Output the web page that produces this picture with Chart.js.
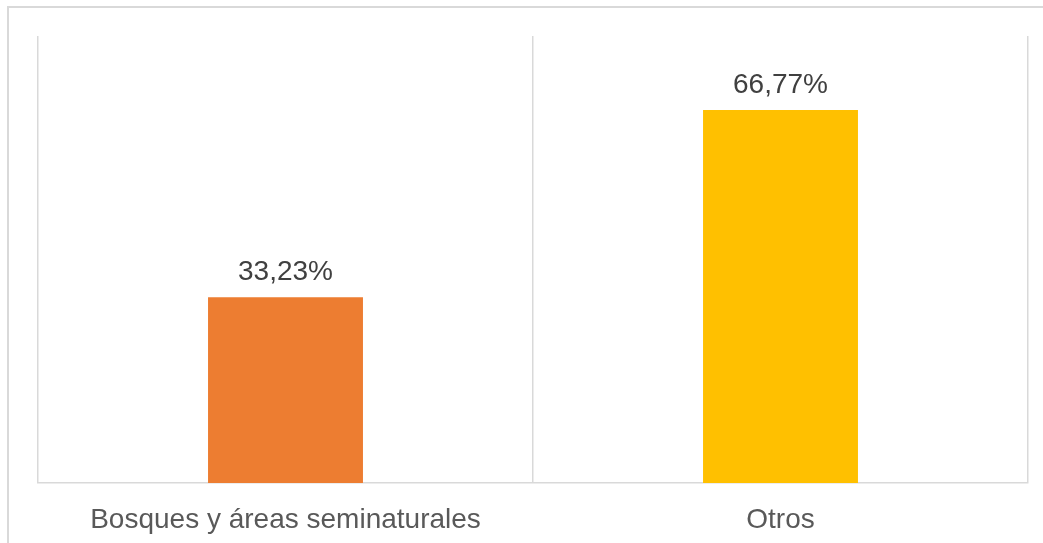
<!DOCTYPE html>
<html>
<head>
<meta charset="utf-8">
<script src="https://cdn.jsdelivr.net/npm/chart.js@4"></script>
<style>
html,body{margin:0;padding:0;background:#fff;}
#wrap{position:relative;width:1043px;height:543px;}
</style>
</head>
<body>
<div id="wrap"><canvas id="c" width="1043" height="543"></canvas></div>
<script>
const categories = ["Bosques y áreas seminaturales", "Otros"];
const values = [33.23, 66.77];
const barColors = ["#ED7D31", "#FFC000"];
const valueLabels = ["33,23%", "66,77%"];

const frame = {
  id: 'frame',
  beforeDraw(chart) {
    const ctx = chart.ctx;
    ctx.save();
    ctx.fillStyle = '#ffffff';
    ctx.fillRect(0, 0, chart.width, chart.height);
    ctx.strokeStyle = '#d9d9d9';
    ctx.lineWidth = 2;
    ctx.beginPath();
    ctx.moveTo(8, chart.height);
    ctx.lineTo(8, 7);
    ctx.lineTo(chart.width, 7);
    ctx.stroke();
    ctx.restore();
  }
};

const dataLabels = {
  id: 'dataLabels',
  afterDatasetsDraw(chart) {
    const ctx = chart.ctx;
    const meta = chart.getDatasetMeta(0);
    ctx.save();
    ctx.font = '28px "Liberation Sans", Arial, sans-serif';
    ctx.fillStyle = '#404040';
    ctx.textAlign = 'center';
    ctx.textBaseline = 'alphabetic';
    meta.data.forEach((bar, i) => {
      ctx.fillText(valueLabels[i], bar.x, bar.y - 17);
    });
    ctx.restore();
  }
};

new Chart(document.getElementById('c'), {
  type: 'bar',
  data: {
    labels: categories,
    datasets: [{
      data: values,
      backgroundColor: barColors,
      borderWidth: 0,
      categoryPercentage: 1,
      barPercentage: 0.313
    }]
  },
  options: {
    responsive: false,
    animation: false,
    devicePixelRatio: 1,
    layout: { padding: { left: 38, right: 15, top: 36, bottom: 0 } },
    plugins: { legend: { display: false }, tooltip: { enabled: false }, title: { display: false } },
    scales: {
      x: {
        grid: { display: true, offset: true, color: '#d9d9d9', lineWidth: 1.5, drawTicks: false },
        border: { display: true, color: '#d9d9d9', width: 1.5 },
        ticks: { color: '#595959', font: { family: '"Liberation Sans", Arial, sans-serif', size: 28 }, padding: 20, maxRotation: 0 },
        afterFit(scale) { scale.height = 60; }
      },
      y: {
        display: false,
        min: 0,
        max: 80
      }
    }
  },
  plugins: [frame, dataLabels]
});
</script>
</body>
</html>
